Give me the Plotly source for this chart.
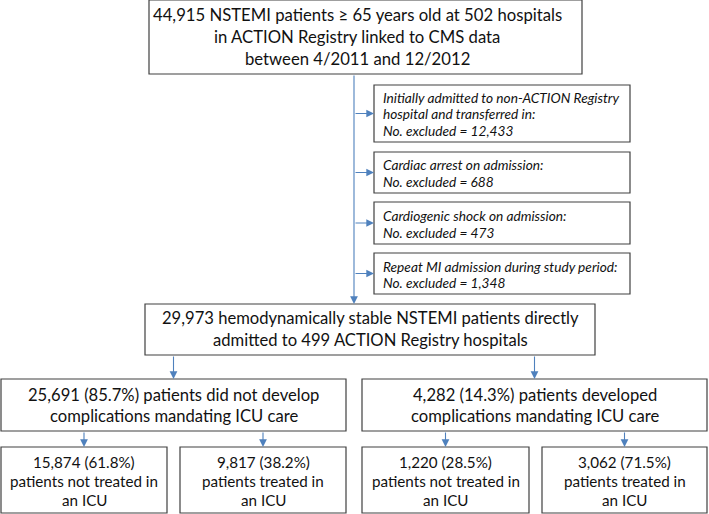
import plotly.graph_objects as go

# ---------------- data ----------------
top_lines = ["44,915 NSTEMI patients \u2265 65 years old at 502 hospitals",
             "in ACTION Registry linked to CMS data",
             "between 4/2011 and 12/2012"]
exclusion_reasons = [["Initially admitted to non-ACTION Registry", "hospital and transferred in:"],
                     ["Cardiac arrest on admission:"],
                     ["Cardiogenic shock on admission:"],
                     ["Repeat MI admission during study period:"]]
excluded_counts = [12433, 688, 473, 1348]
stable_n = 29973
stable_hospitals = 499
group_counts = [25691, 4282]
group_pcts = [85.7, 14.3]
group_desc = ["patients did not develop", "patients developed"]
icu_counts = [[15874, 9817], [1220, 3062]]
icu_pcts = [[61.8, 38.2], [28.5, 71.5]]
icu_desc = [["patients not treated in", "an ICU"], ["patients treated in", "an ICU"]]

# ---------------- styling ----------------
W, H = 709, 514
BORDER = "#404040"
ARROW = "#4f81bd"
TXT = "#111111"
FONT = "Lato"

fig = go.Figure()
shapes = []
annotations = []


def box(x0, y0, x1, y1):
    shapes.append(dict(type="rect", xref="x", yref="y", x0=x0, y0=y0, x1=x1, y1=y1,
                       line=dict(color=BORDER, width=1.2), fillcolor="white", layer="below"))


def text(x, y, s, size, italic=False, anchor="center"):
    t = f"<i>{s}</i>" if italic else s
    annotations.append(dict(x=x, y=y, xref="x", yref="y", text=t, showarrow=False,
                            xanchor=anchor, yanchor="middle",
                            font=dict(family=FONT, size=size, color=TXT)))


def arrow(x0, y0, x1, y1):
    annotations.append(dict(x=x1, y=y1, ax=x0, ay=y0, xref="x", yref="y", axref="x", ayref="y",
                            text="", showarrow=True, arrowhead=2, arrowsize=1.4,
                            arrowwidth=1.1, arrowcolor=ARROW, standoff=0, startstandoff=0))


# top box
box(149, 0, 582, 74)
for yy, s in zip([15, 37, 59], top_lines):
    text(357, yy, s, 16.7)

# main vertical arrow
arrow(354, 74, 354, 304)

# exclusion boxes
excl_boxes = [(85, 142), (152, 193), (202, 244), (253, 294)]
excl_line_y = [[97, 113, 130], [164, 181], [215, 232], [266, 282]]
for (y0, y1), lines_y, reason, cnt in zip(excl_boxes, excl_line_y, exclusion_reasons, excluded_counts):
    box(374, y0, 630, y1)
    arrow(354, (y0 + y1) / 2, 374, (y0 + y1) / 2)
    lines = reason + [f"No. excluded = {cnt:,}"]
    for yy, s in zip(lines_y, lines):
        text(381, yy, s, 13.7, italic=True, anchor="left")

# stable population box
box(145, 304, 595, 355)
text(370, 318, f"{stable_n:,} hemodynamically stable NSTEMI patients directly", 16.6)
text(370, 340, f"admitted to {stable_hospitals} ACTION Registry hospitals", 16.6)

# complication groups
grp_x = [(1, 346), (362, 707)]
sub_x = [[(1, 167), (180, 346)], [(362, 529), (542, 707)]]
for g in range(2):
    x0, x1 = grp_x[g]
    cx = (x0 + x1) / 2
    arrow(cx, 355, cx, 379)
    box(x0, 379, x1, 431)
    text(cx, 395, f"{group_counts[g]:,} ({group_pcts[g]}%) {group_desc[g]}", 16.6)
    text(cx, 416, "complications mandating ICU care", 16.6)
    for k in range(2):
        sx0, sx1 = sub_x[g][k]
        scx = (sx0 + sx1) / 2
        arrow(scx, 431, scx, 447)
        box(sx0, 447, sx1, 513)
        lines = [f"{icu_counts[g][k]:,} ({icu_pcts[g][k]}%)"] + icu_desc[k]
        for yy, s in zip([462, 481, 500], lines):
            text(scx, yy, s, 15.2)

fig.update_layout(
    width=W, height=H,
    margin=dict(l=0, r=0, t=0, b=0),
    paper_bgcolor="white", plot_bgcolor="white",
    xaxis=dict(range=[0, W], visible=False, fixedrange=True),
    yaxis=dict(range=[H, 0], visible=False, fixedrange=True),
    shapes=shapes, annotations=annotations, showlegend=False,
)
fig.write_html("out.html", config={"displayModeBar": False},
               post_script="document.body.style.margin='0';document.body.style.overflow='hidden';")
